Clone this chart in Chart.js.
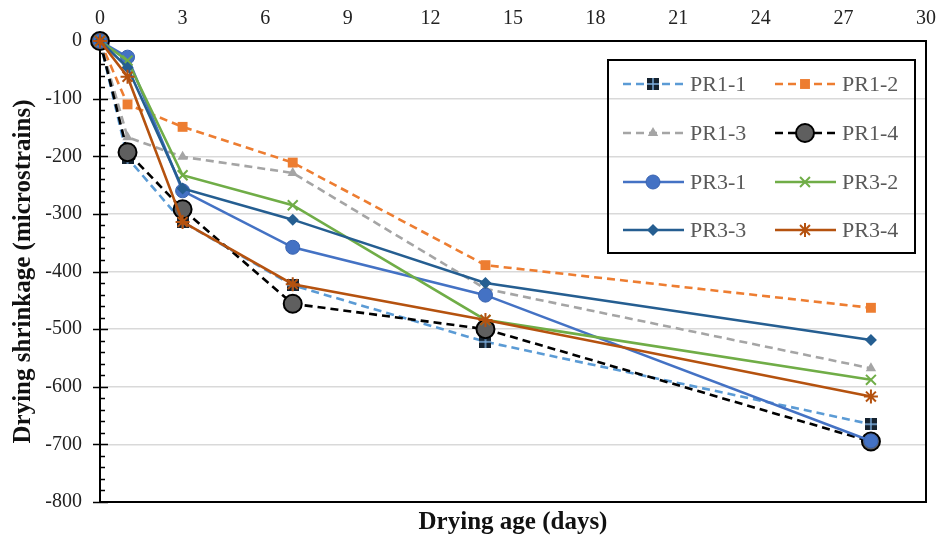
<!DOCTYPE html>
<html>
<head>
<meta charset="utf-8">
<script src="https://cdn.jsdelivr.net/npm/chart.js@4/dist/chart.umd.min.js"></script>
<style>
  html, body { margin: 0; padding: 0; background: #fff; }
  #wrap { width: 946px; height: 539px; }
</style>
</head>
<body>
<div id="wrap"><canvas id="c" width="946" height="539"></canvas></div>
<script>
const days = [0, 1, 3, 7, 14, 28];
const seriesNames = ['PR1-1', 'PR1-2', 'PR1-3', 'PR1-4', 'PR3-1', 'PR3-2', 'PR3-3', 'PR3-4'];
const pr1_1 = [0, -203, -314, -424, -522, -665];
const pr1_2 = [0, -110, -149, -211, -389, -463];
const pr1_3 = [0, -167, -201, -229, -430, -568];
const pr1_4 = [0, -193, -292, -456, -500, -695];
const pr3_1 = [0, -28, -260, -358, -441, -694];
const pr3_2 = [0, -34, -233, -285, -484, -588];
const pr3_3 = [0, -46, -256, -310, -420, -519];
const pr3_4 = [0, -62, -314, -422, -484, -617];
const xTicks = [0, 3, 6, 9, 12, 15, 18, 21, 24, 27, 30];
const yTicks = [0, -100, -200, -300, -400, -500, -600, -700, -800];

const serif = "'Liberation Serif', 'Times New Roman', serif";
Chart.defaults.font.family = serif;

// small dark square with a light cross, like the PR1-1 marker
const sqImg = document.createElement('canvas');
sqImg.width = 12; sqImg.height = 12;
(() => {
  const g = sqImg.getContext('2d');
  g.fillStyle = '#15222f';
  g.fillRect(0, 0, 12, 12);
  g.strokeStyle = '#7fb0e0';
  g.lineWidth = 1.4;
  g.beginPath();
  g.moveTo(6, 0); g.lineTo(6, 12);
  g.moveTo(0, 6); g.lineTo(12, 6);
  g.stroke();
})();

const toPts = vals => vals.map((v, i) => ({ x: days[i], y: v }));

const styles = [
  { color: '#5B9BD5', dash: [8, 5], pointStyle: sqImg, radius: 6, fill: '#15222f', border: '#15222f', bw: 0 },
  { color: '#ED7D31', dash: [8, 5], pointStyle: 'rect', radius: 7, fill: '#ED7D31', border: '#ED7D31', bw: 0 },
  { color: '#A5A5A5', dash: [8, 5], pointStyle: 'triangle', radius: 6, fill: '#A5A5A5', border: '#A5A5A5', bw: 0 },
  { color: '#000000', dash: [8, 5], pointStyle: 'circle', radius: 9, fill: '#5f5f5f', border: '#000000', bw: 2 },
  { color: '#4472C4', dash: [], pointStyle: 'circle', radius: 7, fill: '#4472C4', border: '#3a64b0', bw: 1 },
  { color: '#70AD47', dash: [], pointStyle: 'crossRot', radius: 7, fill: '#70AD47', border: '#70AD47', bw: 2 },
  { color: '#255E91', dash: [], pointStyle: 'rectRot', radius: 6, fill: '#255E91', border: '#255E91', bw: 0 },
  { color: '#B5520F', dash: [], pointStyle: 'star', radius: 7, fill: '#B5520F', border: '#B5520F', bw: 2 }
];
const allVals = [pr1_1, pr1_2, pr1_3, pr1_4, pr3_1, pr3_2, pr3_3, pr3_4];

const datasets = allVals.map((vals, i) => {
  const s = styles[i];
  return {
    label: seriesNames[i],
    data: toPts(vals),
    borderColor: s.color,
    borderWidth: 2.6,
    borderDash: s.dash,
    pointStyle: s.pointStyle,
    pointRadius: s.radius,
    pointBackgroundColor: s.fill,
    pointBorderColor: s.border,
    pointBorderWidth: s.bw,
    tension: 0,
    clip: false,
    order: 7 - i
  };
});

const framePlugin = {
  id: 'frame',
  beforeDatasetsDraw(chart) {
    const { ctx, chartArea: a } = chart;
    const y = chart.scales.y;
    ctx.save();
    ctx.strokeStyle = '#000';
    ctx.lineWidth = 2;
    ctx.strokeRect(a.left, a.top, a.right - a.left, a.bottom - a.top);
    // major and minor tick marks on the y axis
    ctx.lineWidth = 1.6;
    ctx.beginPath();
    for (let v = 0; v >= -800; v -= 20) {
      const py = Math.round(y.getPixelForValue(v)) + 0.5;
      if (v % 100 === 0) {
        ctx.moveTo(a.left - 7, py); ctx.lineTo(a.left + 8, py);
      } else {
        ctx.moveTo(a.left, py); ctx.lineTo(a.left + 5, py);
      }
    }
    ctx.stroke();
    ctx.restore();
  }
};

const legendPlugin = {
  id: 'boxLegend',
  afterDraw(chart) {
    const { ctx } = chart;
    const cols = [623, 775];
    const rows = [84, 133, 182, 230];
    ctx.save();
    ctx.strokeStyle = '#000';
    ctx.lineWidth = 2;
    ctx.strokeRect(608, 60, 307, 193);
    ctx.font = '22px ' + serif;
    ctx.textBaseline = 'middle';
    ctx.fillStyle = '#595959';
    chart.data.datasets.forEach((ds, i) => {
      const x = cols[i % 2];
      const y = rows[Math.floor(i / 2)];
      ctx.save();
      ctx.strokeStyle = ds.borderColor;
      ctx.lineWidth = ds.borderWidth;
      ctx.setLineDash(ds.borderDash);
      ctx.beginPath();
      ctx.moveTo(x, y); ctx.lineTo(x + 61, y);
      ctx.stroke();
      ctx.setLineDash([]);
      ctx.fillStyle = ds.pointBackgroundColor;
      ctx.strokeStyle = ds.pointBorderColor;
      ctx.lineWidth = ds.pointBorderWidth;
      Chart.helpers.drawPoint(ctx, {
        pointStyle: ds.pointStyle,
        radius: ds.pointRadius,
        rotation: 0,
        borderWidth: ds.pointBorderWidth
      }, x + 30, y);
      ctx.restore();
      ctx.fillText(ds.label, x + 67, y + 1);
    });
    ctx.restore();
  }
};

new Chart(document.getElementById('c'), {
  type: 'line',
  data: { datasets },
  options: {
    responsive: false,
    animation: false,
    layout: { padding: { left: 0, right: 16, top: 0, bottom: 0 } },
    scales: {
      x: {
        type: 'linear',
        position: 'top',
        min: 0,
        max: 30,
        afterFit(s) { s.height = 41; },
        afterBuildTicks(s) { s.ticks = xTicks.map(v => ({ value: v })); },
        ticks: { font: { size: 20 }, color: '#222', padding: 10 },
        grid: { display: false, drawTicks: false },
        border: { display: true, color: '#000', width: 2 }
      },
      y: {
        type: 'linear',
        min: -800,
        max: 0,
        afterFit(s) { s.width = 100; },
        afterBuildTicks(s) { s.ticks = yTicks.map(v => ({ value: v })); },
        ticks: { font: { size: 20 }, color: '#222', padding: 18 },
        grid: { color: '#d9d9d9', lineWidth: 1.5, drawTicks: false },
        border: { display: true, color: '#000', width: 2 },
        title: {
          display: true,
          text: 'Drying shrinkage (microstrains)',
          font: { size: 25, weight: 'bold' },
          color: '#111',
          padding: { top: 9, bottom: 0 }
        }
      }
    },
    plugins: {
      legend: { display: false },
      tooltip: { enabled: false },
      title: {
        display: true,
        position: 'bottom',
        fullSize: false,
        text: 'Drying age (days)',
        font: { size: 25, weight: 'bold' },
        color: '#111',
        padding: { top: 6, bottom: 1 }
      }
    }
  },
  plugins: [framePlugin, legendPlugin]
});
</script>
</body>
</html>
